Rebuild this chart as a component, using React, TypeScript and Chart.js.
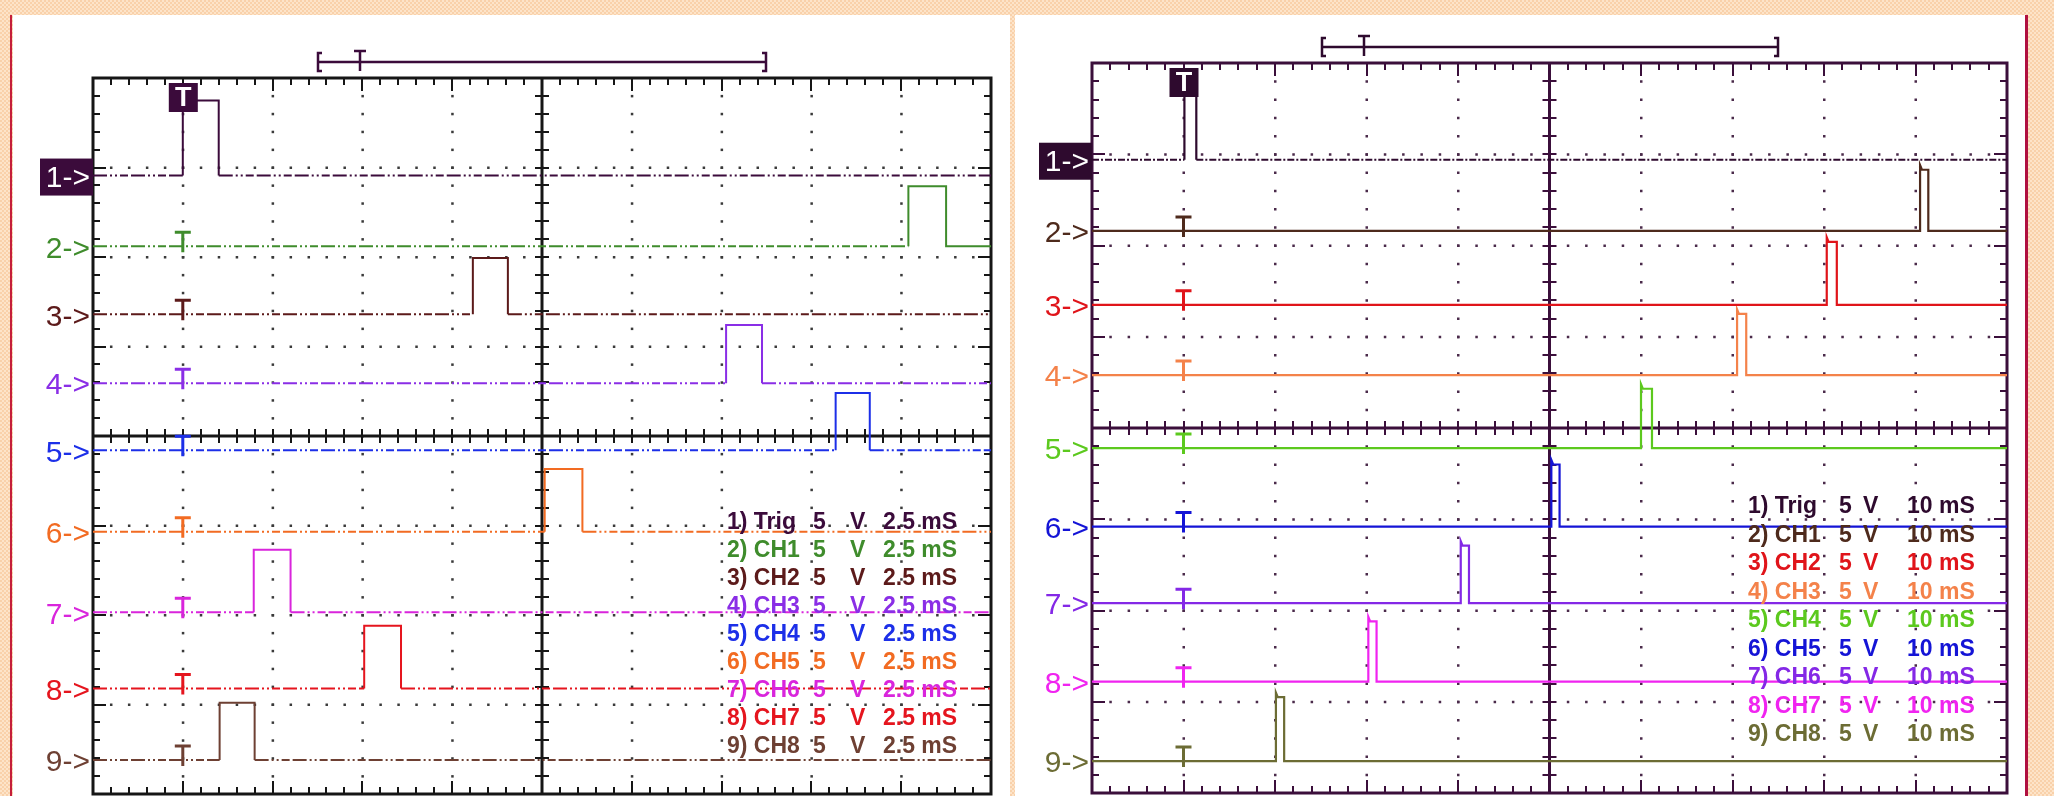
import React, { useEffect, useRef } from 'react';
import { Chart, registerables } from 'chart.js';
Chart.register(...registerables);

// ---------- Left scope (2.5 mS / div) ----------
const leftLabels = ['1->', '2->', '3->', '4->', '5->', '6->', '7->', '8->', '9->'];
const leftLegend = ['1) Trig', '2) CH1', '3) CH2', '4) CH3', '5) CH4', '6) CH5', '7) CH6', '8) CH7', '9) CH8'];
const leftVolts = ['5', 'V'];
const leftTime = '2.5 mS';
const leftColors = ['#3b0b3b', '#3f8c2c', '#5c1a1a', '#8a2ee6', '#1c2fe8', '#f26b22', '#d925dc', '#e5151e', '#6e4033'];
const leftBase = [6.91, 6.12, 5.36, 4.59, 3.84, 2.93, 2.03, 1.18, 0.38];
const leftPulseStart = [1.0, 9.08, 4.23, 7.05, 8.27, 5.03, 1.79, 3.02, 1.41];
const leftPulseEnd = [1.4, 9.5, 4.62, 7.45, 8.65, 5.45, 2.2, 3.43, 1.8];
const leftPulseTop = [7.75, 6.79, 5.99, 5.24, 4.48, 3.63, 2.73, 1.88, 1.02];

// ---------- Right scope (10 mS / div) ----------
const rightLabels = ['1->', '2->', '3->', '4->', '5->', '6->', '7->', '8->', '9->'];
const rightLegend = ['1) Trig', '2) CH1', '3) CH2', '4) CH3', '5) CH4', '6) CH5', '7) CH6', '8) CH7', '9) CH8'];
const rightVolts = ['5', 'V'];
const rightTime = '10 mS';
const rightColors = ['#2e0a2e', '#4e2a1c', '#e0141a', '#f4824a', '#5cc91e', '#1414d6', '#8428e6', '#f024f0', '#6c6c34'];
const rightBase = [6.94, 6.16, 5.35, 4.58, 3.78, 2.92, 2.08, 1.22, 0.35];
const rightPulseStart = [1.01, 9.05, 8.03, 7.05, 6.0, 5.02, 4.03, 3.02, 2.01];
const rightPulseEnd = [1.14, 9.14, 8.14, 7.15, 6.12, 5.11, 4.12, 3.11, 2.1];
const rightPulseTop = [7.7, 6.83, 6.04, 5.25, 4.43, 3.6, 2.71, 1.88, 1.05];

const X_DIVS = 10;
const Y_DIVS = 8;

function buildTraces(base: number[], start: number[], end: number[], top: number[], spike: number) {
  return base.map((b, i) => {
    const pts: { x: number; y: number }[] = [{ x: 0, y: b }, { x: start[i], y: b }];
    if (spike > 0 && i > 0) {
      pts.push({ x: start[i], y: top[i] + spike });
      pts.push({ x: start[i] + 0.02, y: top[i] });
    } else {
      pts.push({ x: start[i], y: top[i] });
    }
    pts.push({ x: end[i], y: top[i] }, { x: end[i], y: b }, { x: X_DIVS, y: b });
    return pts;
  });
}

type ScopeCfg = {
  colors: string[];
  labels: string[];
  legend: string[];
  volts: string[];
  time: string;
  base: number[];
  frame: string;
  dot: string;
  legendX: number[];
  legendY0: number;
  legendDY: number;
  bar: { y: number; x0: number; xt: number; x1: number };
  noisyAll: boolean;
  lineWidth: number;
};

function scopePlugin(cfg: ScopeCfg) {
  return {
    id: 'scope',
    beforeDatasetsDraw(chart: any) {
      const { ctx, chartArea: a, scales } = chart;
      const x = scales.x;
      const y = scales.y;
      ctx.save();
      // dotted grid
      ctx.fillStyle = cfg.dot;
      for (let i = 1; i < X_DIVS; i++) {
        if (i === X_DIVS / 2) continue;
        const px = x.getPixelForValue(i);
        for (let k = 1; k < Y_DIVS * 5; k++) {
          const py = y.getPixelForValue(k / 5);
          ctx.fillRect(px - 1, py - 1, 2.5, 2.5);
        }
      }
      for (let j = 1; j < Y_DIVS; j++) {
        if (j === Y_DIVS / 2) continue;
        const py = y.getPixelForValue(j);
        for (let k = 1; k < X_DIVS * 5; k++) {
          const px = x.getPixelForValue(k / 5);
          ctx.fillRect(px - 1, py - 1, 2.5, 2.5);
        }
      }
      ctx.strokeStyle = cfg.frame;
      ctx.lineCap = 'butt';
      // border ticks
      ctx.lineWidth = 2;
      ctx.beginPath();
      for (let k = 1; k < X_DIVS * 5; k++) {
        const px = Math.round(x.getPixelForValue(k / 5));
        const len = k % 5 === 0 ? 13 : 7;
        ctx.moveTo(px, a.top); ctx.lineTo(px, a.top + len);
        ctx.moveTo(px, a.bottom); ctx.lineTo(px, a.bottom - len);
      }
      for (let k = 1; k < Y_DIVS * 5; k++) {
        const py = Math.round(y.getPixelForValue(k / 5));
        const len = k % 5 === 0 ? 13 : 7;
        ctx.moveTo(a.left, py); ctx.lineTo(a.left + len, py);
        ctx.moveTo(a.right, py); ctx.lineTo(a.right - len, py);
      }
      // center cross ticks
      const cx = x.getPixelForValue(X_DIVS / 2);
      const cy = y.getPixelForValue(Y_DIVS / 2);
      for (let k = 1; k < Y_DIVS * 5; k++) {
        const py = Math.round(y.getPixelForValue(k / 5));
        ctx.moveTo(cx - 7, py); ctx.lineTo(cx + 7, py);
      }
      for (let k = 1; k < X_DIVS * 5; k++) {
        const px = Math.round(x.getPixelForValue(k / 5));
        ctx.moveTo(px, cy - 7); ctx.lineTo(px, cy + 7);
      }
      ctx.stroke();
      // center cross
      ctx.lineWidth = 3;
      ctx.beginPath();
      ctx.moveTo(cx, a.top); ctx.lineTo(cx, a.bottom);
      ctx.moveTo(a.left, cy); ctx.lineTo(a.right, cy);
      ctx.stroke();
      // frame
      ctx.lineWidth = 3;
      ctx.strokeRect(a.left, a.top, a.width, a.height);
      ctx.restore();
    },
    afterDatasetsDraw(chart: any) {
      const { ctx, chartArea: a, scales } = chart;
      const x = scales.x;
      const y = scales.y;
      ctx.save();
      const tx = x.getPixelForValue(1);
      // T markers on channels 2..9
      ctx.lineWidth = 3;
      for (let i = 1; i < cfg.base.length; i++) {
        const py = y.getPixelForValue(cfg.base[i]);
        ctx.strokeStyle = cfg.colors[i];
        ctx.beginPath();
        ctx.moveTo(tx - 8, py - 14); ctx.lineTo(tx + 8, py - 14);
        ctx.moveTo(tx, py - 14); ctx.lineTo(tx, py + 6);
        ctx.stroke();
      }
      // trigger box at the top
      ctx.fillStyle = cfg.colors[0];
      ctx.fillRect(tx - 14, a.top + 5, 29, 29);
      ctx.fillStyle = '#ffffff';
      ctx.font = 'bold 27px "Liberation Sans", Arial, sans-serif';
      ctx.textAlign = 'center';
      ctx.textBaseline = 'middle';
      ctx.fillText('T', tx + 0.5, a.top + 21);
      // channel labels
      ctx.font = '30px "Liberation Sans", Arial, sans-serif';
      ctx.textAlign = 'right';
      for (let i = 0; i < cfg.labels.length; i++) {
        const py = y.getPixelForValue(cfg.base[i]);
        if (i === 0) {
          ctx.fillStyle = cfg.colors[0];
          ctx.fillRect(a.left - 53, py - 17, 53, 37);
          ctx.fillStyle = '#ffffff';
          ctx.fillText(cfg.labels[i], a.left - 3, py + 3);
        } else {
          ctx.fillStyle = cfg.colors[i];
          ctx.fillText(cfg.labels[i], a.left - 3, py + 3);
        }
      }
      // time-scale bar above
      const b = cfg.bar;
      ctx.strokeStyle = cfg.colors[0];
      ctx.lineWidth = 2.5;
      ctx.beginPath();
      ctx.moveTo(b.x0, b.y); ctx.lineTo(b.x1, b.y);
      ctx.moveTo(b.x0 + 4, b.y - 9); ctx.lineTo(b.x0, b.y - 9); ctx.lineTo(b.x0, b.y + 9); ctx.lineTo(b.x0 + 4, b.y + 9);
      ctx.moveTo(b.x1 - 4, b.y - 9); ctx.lineTo(b.x1, b.y - 9); ctx.lineTo(b.x1, b.y + 9); ctx.lineTo(b.x1 - 4, b.y + 9);
      ctx.moveTo(b.xt - 6, b.y - 11); ctx.lineTo(b.xt + 6, b.y - 11);
      ctx.moveTo(b.xt, b.y - 11); ctx.lineTo(b.xt, b.y + 9);
      ctx.stroke();
      // legend text
      ctx.font = 'bold 23px "Liberation Sans", Arial, sans-serif';
      ctx.textAlign = 'left';
      ctx.textBaseline = 'middle';
      for (let i = 0; i < cfg.legend.length; i++) {
        const py = cfg.legendY0 + i * cfg.legendDY;
        ctx.fillStyle = cfg.colors[i];
        ctx.fillText(cfg.legend[i], cfg.legendX[0], py);
        ctx.fillText(cfg.volts[0], cfg.legendX[1], py);
        ctx.fillText(cfg.volts[1], cfg.legendX[2], py);
        ctx.fillText(cfg.time, cfg.legendX[3], py);
      }
      ctx.restore();
    },
  };
}

function makeChart(canvas: HTMLCanvasElement, traces: { x: number; y: number }[][], cfg: ScopeCfg, padding: any) {
  const noisyDash = [14, 3, 2, 3, 2, 3, 8, 3];
  const datasets = traces.map((pts, i) => ({
    data: pts,
    borderColor: cfg.colors[i],
    borderWidth: cfg.lineWidth,
    pointRadius: 0,
    tension: 0,
    fill: false,
    segment: {
      borderDash: (c: any) => {
        const horiz = c.p0.parsed.y === c.p1.parsed.y && Math.abs(c.p1.parsed.x - c.p0.parsed.x) > 0.5;
        if (!horiz) return [];
        if (cfg.noisyAll) return noisyDash;
        return i === 0 ? [7, 2, 2, 2] : [];
      },
    },
  }));
  return new Chart(canvas, {
    type: 'line',
    data: { datasets } as any,
    options: {
      responsive: false,
      animation: false,
      events: [],
      layout: { padding },
      scales: {
        x: { type: 'linear', min: 0, max: X_DIVS, display: false },
        y: { type: 'linear', min: 0, max: Y_DIVS, display: false },
      },
      plugins: { legend: { display: false }, tooltip: { enabled: false } },
    } as any,
    plugins: [scopePlugin(cfg)],
  });
}

export default function App() {
  const leftRef = useRef<HTMLCanvasElement>(null);
  const rightRef = useRef<HTMLCanvasElement>(null);

  useEffect(() => {
    const leftCfg: ScopeCfg = {
      colors: leftColors, labels: leftLabels, legend: leftLegend, volts: leftVolts, time: leftTime,
      base: leftBase, frame: '#161616', dot: '#3a3a3a',
      legendX: [714, 800, 837, 870], legendY0: 508, legendDY: 28,
      bar: { y: 47, x0: 305, xt: 347, x1: 753 },
      noisyAll: true, lineWidth: 2,
    };
    const rightCfg: ScopeCfg = {
      colors: rightColors, labels: rightLabels, legend: rightLegend, volts: rightVolts, time: rightTime,
      base: rightBase, frame: '#3b0f3b', dot: '#4a2a4a',
      legendX: [733, 824, 848, 892], legendY0: 492, legendDY: 28.5,
      bar: { y: 32, x0: 307, xt: 349, x1: 763 },
      noisyAll: false, lineWidth: 2.2,
    };
    const c1 = makeChart(
      leftRef.current!,
      buildTraces(leftBase, leftPulseStart, leftPulseEnd, leftPulseTop, 0),
      leftCfg,
      { left: 80, right: 19, top: 63, bottom: 2 }
    );
    const c2 = makeChart(
      rightRef.current!,
      buildTraces(rightBase, rightPulseStart, rightPulseEnd, rightPulseTop, 0.05),
      rightCfg,
      { left: 77, right: 18, top: 48, bottom: 3 }
    );
    return () => { c1.destroy(); c2.destroy(); };
  }, []);

  return (
    <div
      style={{
        position: 'absolute', left: 0, top: 0, width: 2054, height: 796, overflow: 'hidden',
        background: 'repeating-conic-gradient(#fde4c9 0% 25%, #f9d1aa 0% 50%) 0 0 / 4px 4px',
      }}
    >
      <div style={{ position: 'absolute', left: 10, top: 15, width: 2, height: 781, background: '#c41e3a' }} />
      <div style={{ position: 'absolute', left: 13, top: 15, width: 997, height: 781, background: '#ffffff' }} />
      <div style={{ position: 'absolute', left: 1015, top: 15, width: 1010, height: 781, background: '#ffffff' }} />
      <div style={{ position: 'absolute', left: 2025, top: 15, width: 3, height: 781, background: '#b01040' }} />
      <canvas ref={leftRef} width={997} height={781}
        style={{ position: 'absolute', left: 13, top: 15, width: 997, height: 781 }} />
      <canvas ref={rightRef} width={1010} height={781}
        style={{ position: 'absolute', left: 1015, top: 15, width: 1010, height: 781 }} />
    </div>
  );
}
